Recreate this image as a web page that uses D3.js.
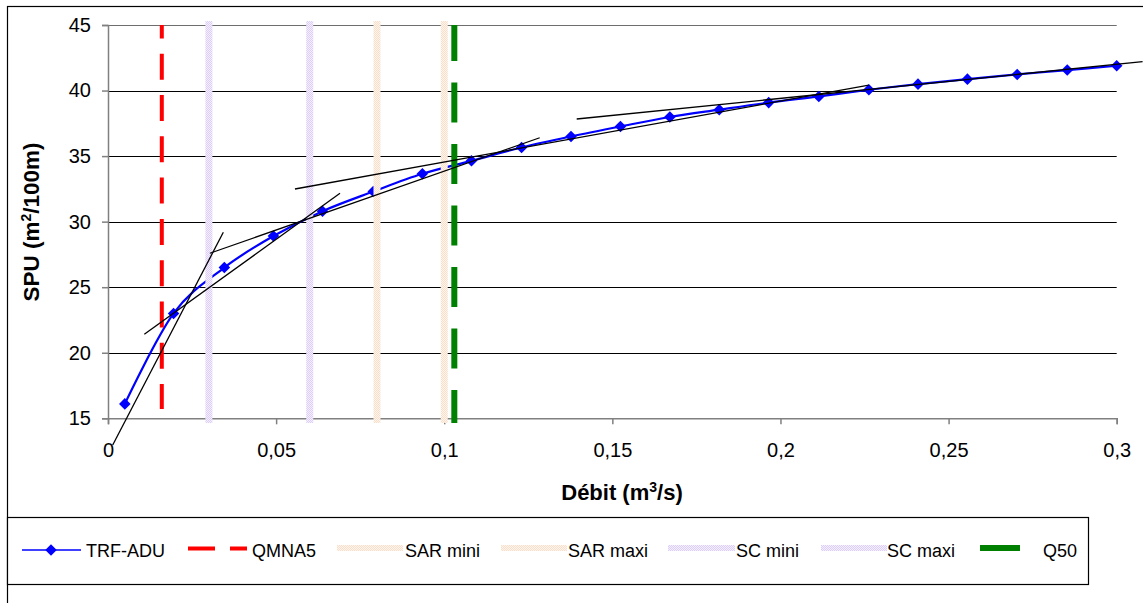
<!DOCTYPE html>
<html>
<head>
<meta charset="utf-8">
<script src="https://cdn.jsdelivr.net/npm/d3@7"></script>
<style>
  html, body { margin: 0; padding: 0; background: #fff; }
  svg { display: block; font-family: "Liberation Sans", Arial, sans-serif; }
</style>
</head>
<body>
<svg id="chart" width="1143" height="603"></svg>
<script>
// ---------- data ----------
const discharge = [0.005, 0.0195, 0.0346, 0.0492, 0.0638, 0.0789, 0.0935, 0.1081, 0.123, 0.1377, 0.1524,
                   0.1671, 0.1818, 0.1965, 0.2114, 0.2263, 0.2409, 0.2556, 0.2704, 0.2853, 0.3];
const spu = [16.1, 23.0, 26.5, 28.9, 30.8, 32.3, 33.65, 34.64, 35.66, 36.5, 37.26,
             37.98, 38.54, 39.08, 39.55, 40.06, 40.49, 40.87, 41.23, 41.56, 41.89];

const qmna5 = 0.016;
const q50 = 0.103;
const sarMini = 0.08, sarMaxi = 0.1;
const scMini = 0.03, scMaxi = 0.06;

// hand-drawn tangent segments (start / end in data units)
const tangentStartX = [0.0014, 0.0108, 0.0303, 0.0556, 0.1394];
const tangentStartY = [12.96, 21.41, 27.59, 32.49, 37.83];
const tangentEndX   = [0.0343, 0.0690, 0.1284, 0.2263, 0.3077];
const tangentEndY   = [29.19, 32.16, 36.40, 40.42, 42.20];

const xTicks = [0, 0.05, 0.1, 0.15, 0.2, 0.25, 0.3];
const xTickLabels = ["0", "0,05", "0,1", "0,15", "0,2", "0,25", "0,3"];
const yTicks = [15, 20, 25, 30, 35, 40, 45];

const legendNames = ["TRF-ADU", "QMNA5", "SAR mini", "SAR maxi", "SC mini", "SC maxi", "Q50"];

// ---------- setup ----------
const svg = d3.select("#chart");
const W = 1143, H = 603;
const x = d3.scaleLinear().domain([0, 0.3]).range([108, 1116.7]);
const y = d3.scaleLinear().domain([15, 45]).range([418.3, 25]);

svg.append("rect").attr("width", W).attr("height", H).attr("fill", "#fff");

const defs = svg.append("defs");
function checker(id, c1, c2) {
  const p = defs.append("pattern").attr("id", id).attr("width", 2).attr("height", 2)
    .attr("patternUnits", "userSpaceOnUse");
  p.append("rect").attr("width", 2).attr("height", 2).attr("fill", c2);
  p.append("rect").attr("width", 1).attr("height", 1).attr("fill", c1);
  p.append("rect").attr("x", 1).attr("y", 1).attr("width", 1).attr("height", 1).attr("fill", c1);
}
checker("scPat", "#dccdfb", "#f5f0fe");
checker("sarPat", "#f9dfca", "#fef5ee");

// outer chart border
svg.append("rect").attr("x", 7.5).attr("y", 6.5).attr("width", 1160).attr("height", 620)
  .attr("fill", "none").attr("stroke", "#000").attr("stroke-width", 1.2);

// ---------- grid ----------
svg.append("g").selectAll("line").data(yTicks.filter(d => d > 15)).join("line")
  .attr("x1", x(0)).attr("x2", x(0.3))
  .attr("y1", d => Math.round(y(d)) + 0.5).attr("y2", d => Math.round(y(d)) + 0.5)
  .attr("stroke", d => d === 45 ? "#6e6e6e" : "#000").attr("stroke-width", 1);

// ---------- axes ----------
const yAxis = svg.append("g").attr("transform", `translate(${x(0)},0)`)
  .call(d3.axisLeft(y).tickValues(yTicks).tickSize(6).tickPadding(11).tickFormat(d3.format("d")));
const xAxis = svg.append("g").attr("transform", `translate(0,${y(15)})`)
  .call(d3.axisBottom(x).tickValues(xTicks).tickSize(6).tickPadding(19)
    .tickFormat((d, i) => xTickLabels[i]));
[yAxis, xAxis].forEach(g => {
  g.select(".domain").attr("stroke", "#808080").attr("stroke-width", 1.5);
  g.selectAll(".tick line").attr("stroke", "#808080").attr("stroke-width", 1.5);
  g.selectAll(".tick text").attr("fill", "#000").style("font-size", "20px")
    .style("font-family", '"Liberation Sans", Arial, sans-serif');
});

// axis titles
const yTitle = svg.append("text")
  .attr("transform", "translate(39,222) rotate(-90)")
  .attr("text-anchor", "middle").style("font-weight", "bold").style("font-size", "22.5px");
yTitle.append("tspan").text("SPU (m");
yTitle.append("tspan").text("2").attr("dy", -8).style("font-size", "14px");
yTitle.append("tspan").text("/100m)").attr("dy", 8);

const xTitle = svg.append("text").attr("x", 622).attr("y", 500)
  .attr("text-anchor", "middle").style("font-weight", "bold").style("font-size", "22px");
xTitle.append("tspan").text("Débit (m");
xTitle.append("tspan").text("3").attr("dy", -8).style("font-size", "14px");
xTitle.append("tspan").text("/s)").attr("dy", 8);

// ---------- series ----------
const pts = discharge.map((d, i) => [d, spu[i]]);
const line = d3.line().x(d => x(d[0])).y(d => y(d[1])).curve(d3.curveCatmullRom.alpha(0));
svg.append("path").attr("d", line(pts)).attr("fill", "none")
  .attr("stroke", "#0000ff").attr("stroke-width", 2.2);
const diamond = d3.symbol().type(d3.symbolDiamond2).size(85);
svg.append("g").selectAll("path").data(pts).join("path")
  .attr("d", diamond)
  .attr("transform", d => `translate(${x(d[0])},${y(d[1])})`)
  .attr("fill", "#0000ff");

// ---------- vertical reference lines ----------
const vTop = 21, vBottom = 423;
function band(v, pat) {
  svg.append("rect").attr("x", x(v) - 3.5).attr("y", vTop).attr("width", 7)
    .attr("height", vBottom - vTop).attr("fill", `url(#${pat})`);
}
band(scMini, "scPat");
band(scMaxi, "scPat");
band(sarMini, "sarPat");
band(sarMaxi, "sarPat");

svg.append("line").attr("x1", x(qmna5)).attr("x2", x(qmna5))
  .attr("y1", 25).attr("y2", 409)
  .attr("stroke", "#ff0000").attr("stroke-width", 4)
  .attr("stroke-dasharray", "26 15.3").attr("stroke-dashoffset", 12.6);

svg.append("line").attr("x1", x(q50)).attr("x2", x(q50))
  .attr("y1", 25).attr("y2", 423)
  .attr("stroke", "#008000").attr("stroke-width", 6)
  .attr("stroke-dasharray", "40 21.5").attr("stroke-dashoffset", 4);

// ---------- tangent lines ----------
svg.append("g").selectAll("line").data(tangentStartX).join("line")
  .attr("x1", (d, i) => x(tangentStartX[i])).attr("y1", (d, i) => y(tangentStartY[i]))
  .attr("x2", (d, i) => x(tangentEndX[i])).attr("y2", (d, i) => y(tangentEndY[i]))
  .attr("stroke", "#000").attr("stroke-width", 1.3);

// ---------- legend ----------
const lg = svg.append("g");
lg.append("rect").attr("x", 7.5).attr("y", 517.5).attr("width", 1081).attr("height", 67)
  .attr("fill", "#fff").attr("stroke", "#000").attr("stroke-width", 1.2);
const ly = 550, lty = 557;
// TRF-ADU
lg.append("line").attr("x1", 22).attr("x2", 81).attr("y1", ly).attr("y2", ly)
  .attr("stroke", "#0000ff").attr("stroke-width", 1.5);
lg.append("path").attr("d", diamond).attr("transform", `translate(51,${ly})`).attr("fill", "#0000ff");
// QMNA5
lg.append("line").attr("x1", 188).attr("x2", 247).attr("y1", 548.5).attr("y2", 548.5)
  .attr("stroke", "#ff0000").attr("stroke-width", 4).attr("stroke-dasharray", "27 15");
// SAR mini / maxi
lg.append("rect").attr("x", 337).attr("y", 545).attr("width", 66).attr("height", 6).attr("fill", "url(#sarPat)");
lg.append("rect").attr("x", 501).attr("y", 545).attr("width", 66).attr("height", 6).attr("fill", "url(#sarPat)");
// SC mini / maxi
lg.append("rect").attr("x", 668).attr("y", 545).attr("width", 67).attr("height", 6).attr("fill", "url(#scPat)");
lg.append("rect").attr("x", 821).attr("y", 545).attr("width", 66).attr("height", 6).attr("fill", "url(#scPat)");
// Q50
lg.append("line").attr("x1", 980).attr("x2", 1020).attr("y1", 548).attr("y2", 548)
  .attr("stroke", "#008000").attr("stroke-width", 6);
const legendTextX = [86, 252, 405, 568, 736, 887, 1043];
lg.selectAll("text.lt").data(legendNames).join("text").attr("class", "lt")
  .attr("x", (d, i) => legendTextX[i]).attr("y", lty)
  .style("font-size", "18px").text(d => d);
</script>
</body>
</html>
